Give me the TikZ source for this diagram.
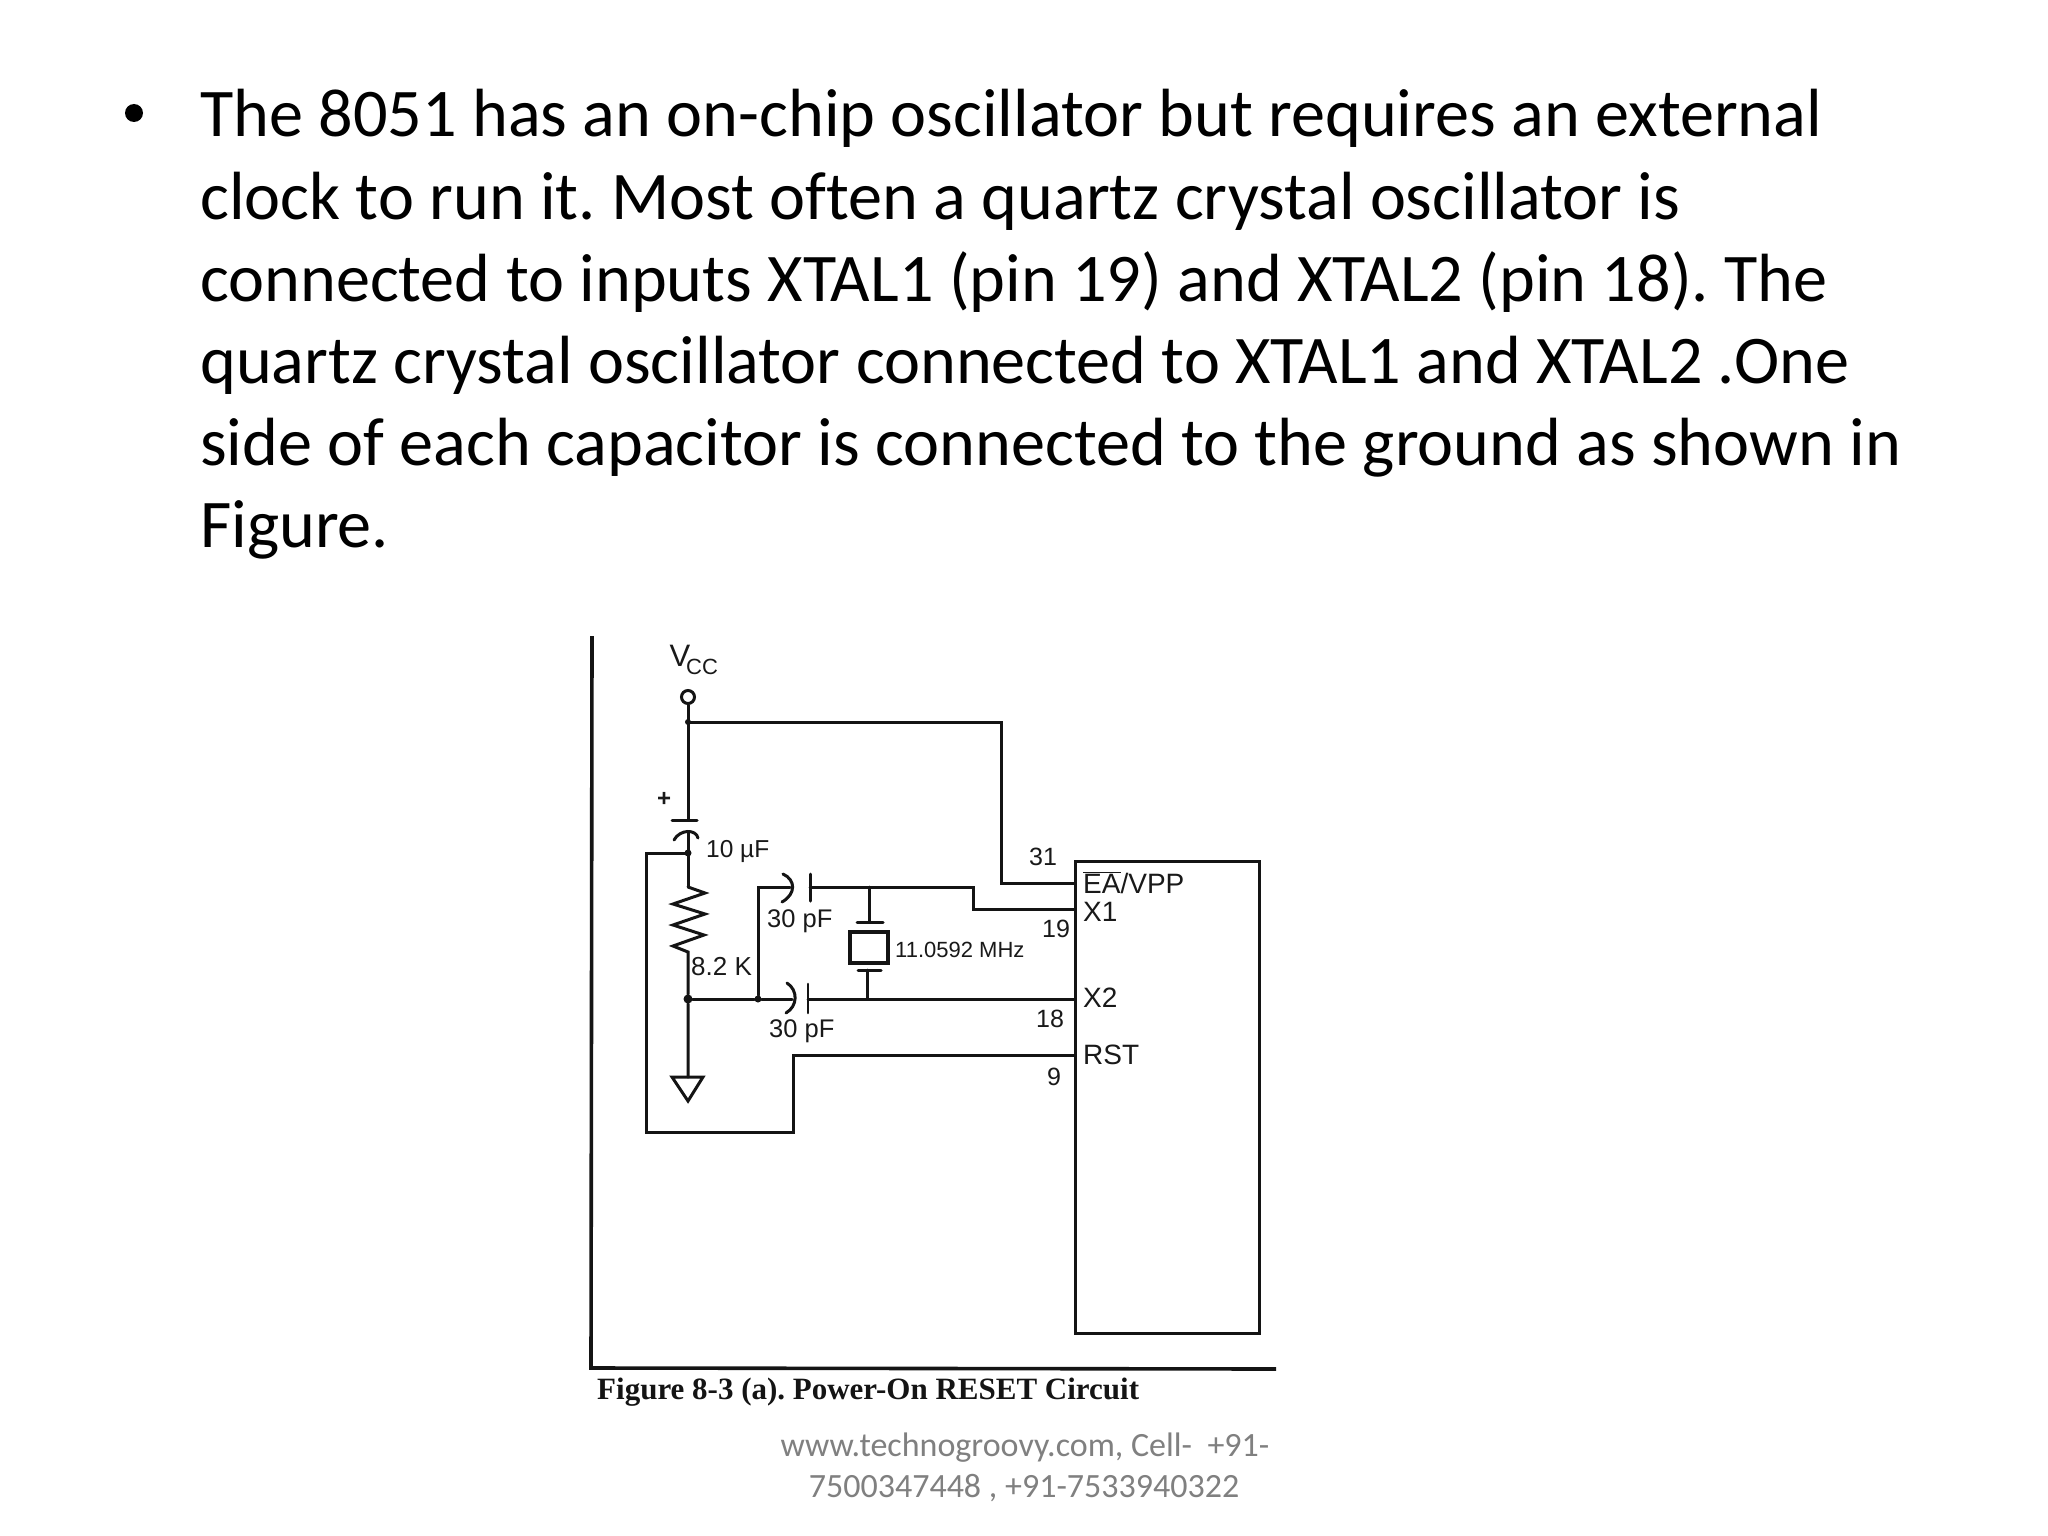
\documentclass[tikz,border=0pt]{standalone}
\usepackage{fontspec}
\setmainfont{Carlito}[Ligatures=CommonOff]
\newfontfamily\schem{Liberation Sans}
\newfontfamily\capt{Liberation Serif}[BoldFont={Liberation Serif Bold}]
\newcommand{\fs}[1]{\fontsize{#1}{#1}\selectfont}
\frenchspacing
\tikzset{
  wire/.style={draw=black!92,line width=3pt,line join=miter,line cap=round},
  thinw/.style={draw=black!92,line width=2.6pt,line cap=round},
  frameline/.style={draw=black!92,line width=3.6pt},
  body/.style={anchor=base west,inner sep=0pt,font=\fs{68.2},text=black},
  lab/.style={inner sep=0pt,text=black!90,font=\schem\fs{#1}},
  lab/.default=26,
  labw/.style={inner sep=0pt,anchor=west,text=black!90,font=\schem\fs{#1}},
  foot/.style={inner sep=0pt,anchor=base,text=black!50,font=\fs{34}},
  dot/.style={circle,fill=black!92,inner sep=0pt,minimum size=9pt},
}
\begin{document}
\begin{tikzpicture}[x=1pt,y=-1pt]
\useasboundingbox (0,0) rectangle (2048,1536);
\fill[white] (0,0) rectangle (2048,1536);
% slide text
\node[circle,fill=black,inner sep=0pt,minimum size=18pt] (bul) at (134,113) {};
\node[body] (l1) at (200,137) {The 8051 has an on-chip oscillator but requires an external};
\node[body] (l2) at (200,219) {clock to run it. Most often a quartz crystal oscillator is};
\node[body] (l3) at (200,301) {connected to inputs XTAL1 (pin 19) and XTAL2 (pin 18). The};
\node[body] (l4) at (200,383) {quartz crystal oscillator connected to XTAL1 and XTAL2 .One};
\node[body] (l5) at (200,465) {side of each capacitor is connected to the ground as shown in};
\node[body] (l6) at (200,547) {Figure.};
% figure frame
\coordinate (ftop) at (592,636);
\coordinate (fcorner) at (591,1368);
\coordinate (fend) at (1276,1369);
\draw[frameline] (ftop) -- (fcorner) -- (fend);
% chip
\node[draw=black!92,line width=3.4pt,minimum width=184pt,minimum height=472pt,inner sep=0pt,anchor=north west] (chip) at (1074,860) {};
% supply
\node[draw=black!92,line width=3pt,circle,minimum size=13pt,inner sep=0pt] (vcc) at (688,697) {};
\coordinate (jv) at (688,722);
\coordinate (c1top) at (688,820);
\coordinate (jc) at (688,853);
\coordinate (rtop) at (688,887);
\coordinate (rbot) at (688,952);
\node[dot] (jm) at (688,999) {};
\coordinate (gndtop) at (688,1077);
\draw[wire] (vcc) -- (c1top);
\draw[wire] (jv) -| (1001,883) -- (1074,883);
\draw[wire] (672,820) -- (697,820);
\draw[wire] (674,840) .. controls (680,829) and (696,829) .. (698,838);
\draw[wire] (688,832) -- (jc) -- (rtop);
\node[dot,minimum size=7pt] (jca) at (jc) {};
\node[dot,minimum size=6pt] (jva) at (jv) {};
\draw[wire] (rtop) -- (705,893) -- (673,904) -- (705,914) -- (673,925) -- (704,935) -- (673,946) -- (rbot) -- (jm) -- (gndtop);
\draw[wire,line join=miter] (672,1077) -- (703,1077) -- (688,1101) -- cycle;
% reset loop
\draw[wire] (jc) -- (646,853) -- (646,1132) -- (793,1132) -- (793,1055) -- (1074,1055);
% capacitors
\node[dot,minimum size=7pt] (jl) at (758,999) {};
\draw[wire] (jm) -- (jl) -- (792,999);
\draw[wire] (jl) -- (758,887) -- (790,887);
\draw[wire] (783,874) .. controls (796,880) and (796,894) .. (782,902);
\draw[wire] (810,874) -- (810,901);
\draw[wire] (810,887) -- (973,887) -- (973,909) -- (1074,909);
\draw[wire] (787,983) .. controls (798,990) and (798,1006) .. (786,1013);
\draw[thinw] (808,984) -- (808,1013);
\draw[wire] (808,999) -- (1074,999);
% crystal
\node[draw=black!92,line width=3.2pt,minimum width=38pt,minimum height=31pt,inner sep=0pt] (xtal) at (869,947.5) {};
\draw[wire] (869,887) -- (869,922);
\draw[wire] (857,922) -- (883,922);
\draw[wire] (858,970) -- (881,970);
\draw[wire] (867,970) -- (867,999);
% labels
\node[lab=31] (vtxt) at (680,656) {V};
\node[lab=22] (cctxt) at (702,667) {CC};
\node[lab=24] (plus) at (664,799) {\bfseries +};
\node[labw=24.5] (t10) at (706,851) {10 µF};
\node[labw=25.5] (t30a) at (767,921) {30 pF};
\node[labw=25.5] (t30b) at (769,1031) {30 pF};
\node[labw=26] (t82) at (691,967) {8.2 K};
\node[labw=22] (tmhz) at (895,950) {11.0592 MHz};
\node[lab=25] (n31) at (1043,857) {31};
\node[lab=25] (n19) at (1056,929) {19};
\node[lab=25] (n18) at (1050,1019) {18};
\node[lab=25] (n9) at (1054,1077) {9};
\node[labw=28,anchor=base west] (tea) at (1083,893) {$\overline{\hbox{EA}}$/VPP};
\node[labw=28] (tx1) at (1083,912) {X1};
\node[labw=28] (tx2) at (1083,998) {X2};
\node[labw=28] (trst) at (1083,1055) {RST};
% caption
\node[inner sep=0pt,anchor=base west,text=black!92,font=\capt\bfseries\fs{31}] (cap) at (597,1399) {Figure 8-3 (a). Power-On RESET Circuit};
% footer
\node[foot] (f1) at (1025,1456) {www.technogroovy.com, Cell-\ \ +91-};
\node[foot] (f2) at (1024,1497) {7500347448 , +91-7533940322};
\end{tikzpicture}
\end{document}
